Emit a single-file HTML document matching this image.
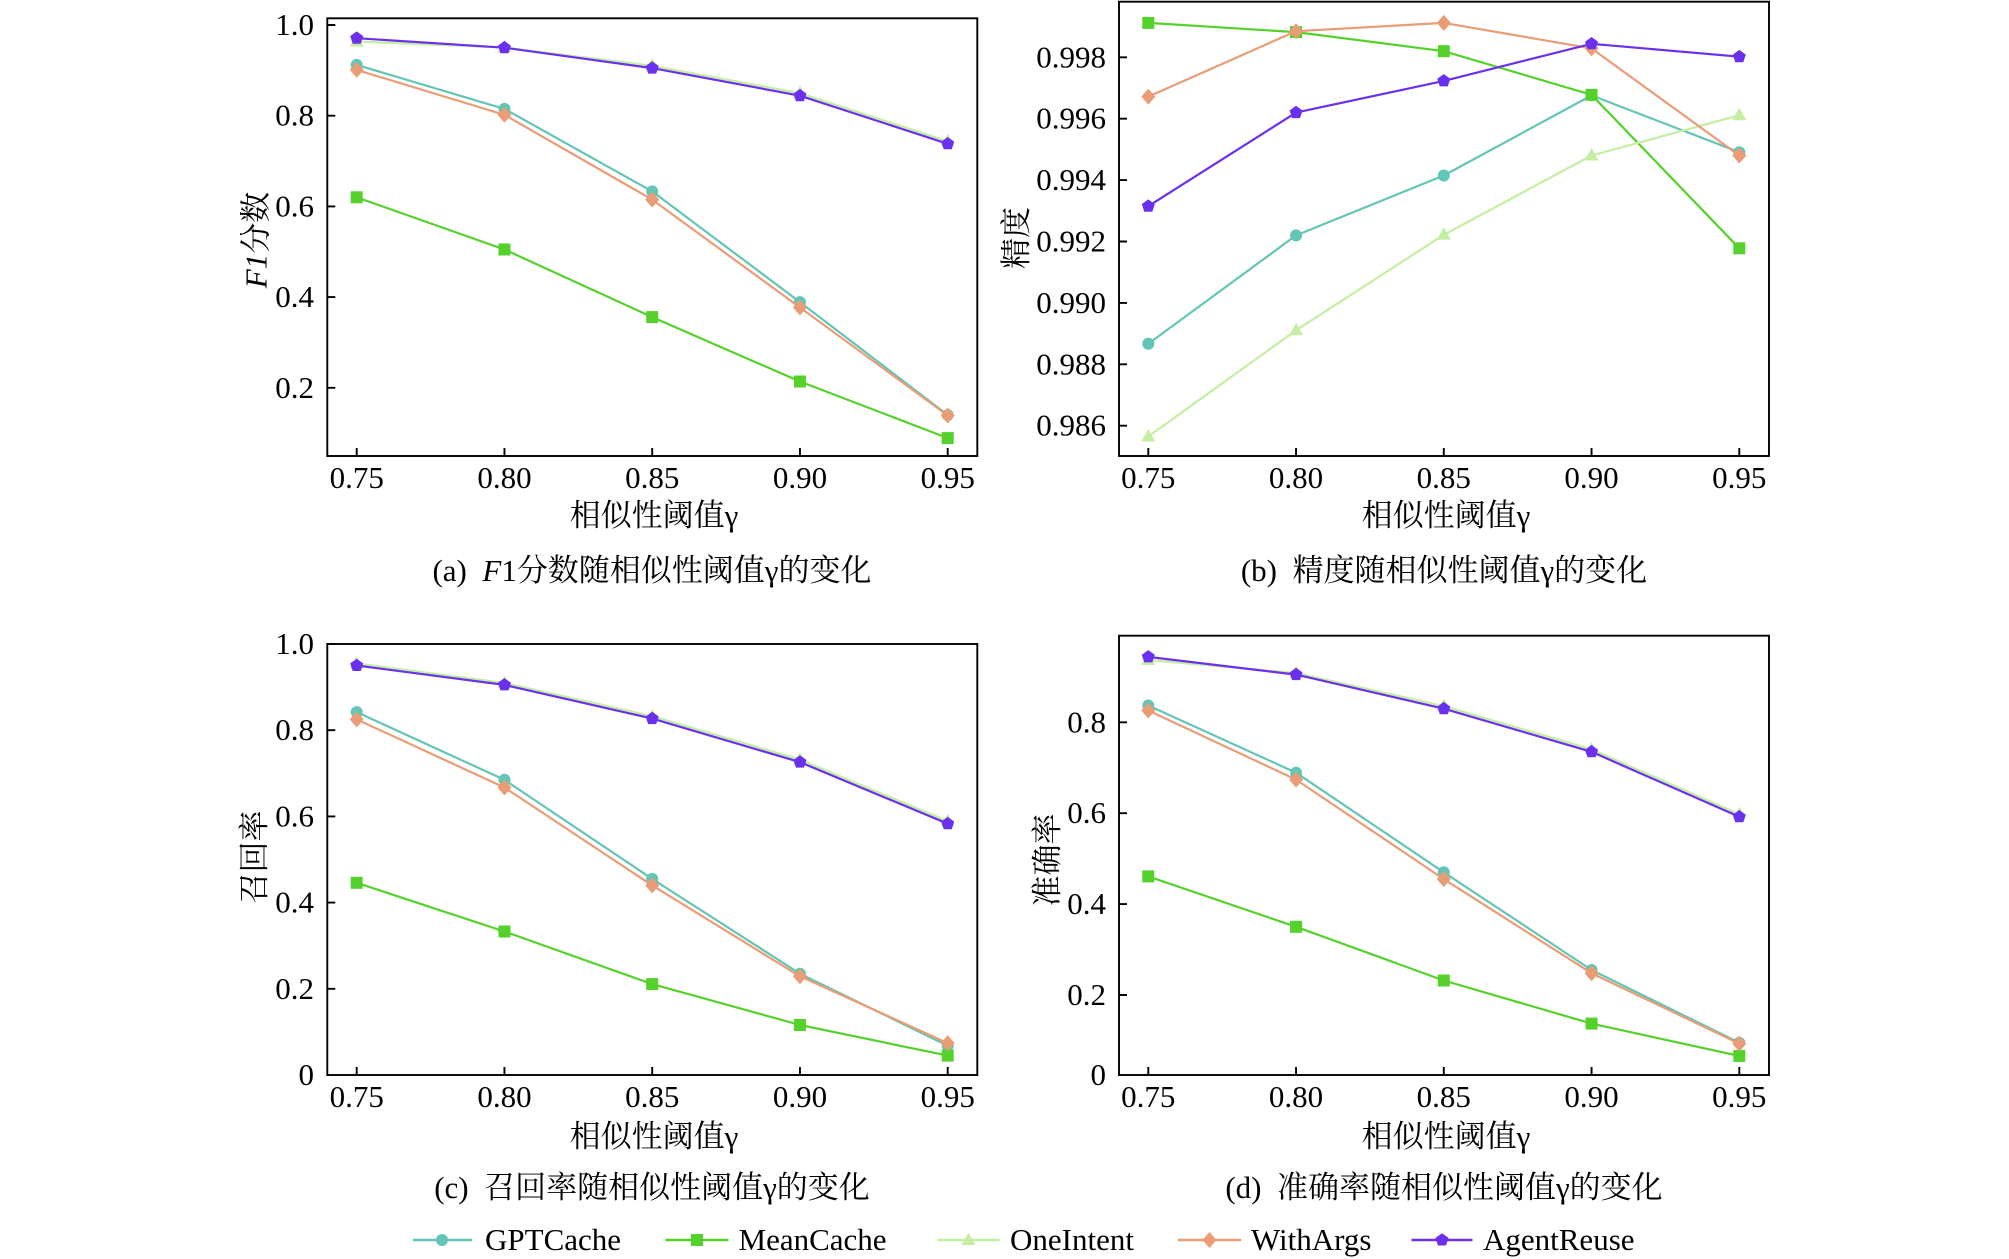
<!DOCTYPE html>
<html><head><meta charset="utf-8"><style>
html,body{margin:0;padding:0;background:#fff;}
svg{display:block;}
text{font-family:"Liberation Serif","Noto Serif CJK SC",serif;font-size:31px;fill:#000;}
</style></head><body>
<svg width="2009" height="1259" viewBox="0 0 2009 1259" xmlns="http://www.w3.org/2000/svg">
<defs>
<marker id="mc" markerUnits="userSpaceOnUse" markerWidth="20" markerHeight="20" refX="0" refY="0" overflow="visible"><circle cx="0" cy="0" r="6" fill="#63c5b5"/></marker>
<marker id="ms" markerUnits="userSpaceOnUse" markerWidth="20" markerHeight="20" refX="0" refY="0" overflow="visible"><rect x="-6" y="-6" width="12" height="12" fill="#55d12b"/></marker>
<marker id="mt" markerUnits="userSpaceOnUse" markerWidth="20" markerHeight="20" refX="0" refY="0" overflow="visible"><polygon points="0,-7.5 7,5 -7,5" fill="#c5eea2"/></marker>
<marker id="md" markerUnits="userSpaceOnUse" markerWidth="20" markerHeight="20" refX="0" refY="0" overflow="visible"><polygon points="0,-8 7,0 0,8 -7,0" fill="#ea9c77"/></marker>
<marker id="mp" markerUnits="userSpaceOnUse" markerWidth="20" markerHeight="20" refX="0" refY="0" overflow="visible"><polygon points="0,-6.8 6.5,-2.1 4,5.5 -4,5.5 -6.5,-2.1" fill="#6a30ee"/></marker>
</defs>
<rect width="2009" height="1259" fill="#fff"/>

<g fill="none" stroke-width="2.2" stroke-linejoin="round">
<!-- (a) -->
<polyline stroke="#63c5b5" marker-start="url(#mc)" marker-mid="url(#mc)" marker-end="url(#mc)" points="356.7,64.9 504.45,108.9 652.2,191.4 799.95,302.1 947.7,415.0"/>
<polyline stroke="#55d12b" marker-start="url(#ms)" marker-mid="url(#ms)" marker-end="url(#ms)" points="356.7,197.3 504.45,249.5 652.2,317.1 799.95,381.5 947.7,438.1"/>
<polyline stroke="#c5eea2" marker-start="url(#mt)" marker-mid="url(#mt)" marker-end="url(#mt)" points="356.7,41.5 504.45,47.5 652.2,65.8 799.95,93.2 947.7,141.3"/>
<polyline stroke="#ea9c77" marker-start="url(#md)" marker-mid="url(#md)" marker-end="url(#md)" points="356.7,69.9 504.45,114.8 652.2,199.6 799.95,307.5 947.7,415.5"/>
<polyline stroke="#6a30ee" marker-start="url(#mp)" marker-mid="url(#mp)" marker-end="url(#mp)" points="356.7,38.2 504.45,47.7 652.2,68.1 799.95,95.7 947.7,143.8"/>
<!-- (b) -->
<polyline stroke="#63c5b5" marker-start="url(#mc)" marker-mid="url(#mc)" marker-end="url(#mc)" points="1148.3,343.7 1296.05,235.4 1443.8,175.5 1591.55,95.4 1739.3,152.2"/>
<polyline stroke="#55d12b" marker-start="url(#ms)" marker-mid="url(#ms)" marker-end="url(#ms)" points="1148.3,22.9 1296.05,32.1 1443.8,51.2 1591.55,94.8 1739.3,248.3"/>
<polyline stroke="#c5eea2" marker-start="url(#mt)" marker-mid="url(#mt)" marker-end="url(#mt)" points="1148.3,436.5 1296.05,330.3 1443.8,234.8 1591.55,155.5 1739.3,115.3"/>
<polyline stroke="#ea9c77" marker-start="url(#md)" marker-mid="url(#md)" marker-end="url(#md)" points="1148.3,96.6 1296.05,31.2 1443.8,22.9 1591.55,48.4 1739.3,155.5"/>
<polyline stroke="#6a30ee" marker-start="url(#mp)" marker-mid="url(#mp)" marker-end="url(#mp)" points="1148.3,206.2 1296.05,112.6 1443.8,80.9 1591.55,43.8 1739.3,56.7"/>
<!-- (c) -->
<polyline stroke="#63c5b5" marker-start="url(#mc)" marker-mid="url(#mc)" marker-end="url(#mc)" points="356.7,712.1 504.45,779.8 652.2,878.9 799.95,973.7 947.7,1045.7"/>
<polyline stroke="#55d12b" marker-start="url(#ms)" marker-mid="url(#ms)" marker-end="url(#ms)" points="356.7,882.8 504.45,931.5 652.2,984.1 799.95,1025.0 947.7,1055.6"/>
<polyline stroke="#c5eea2" marker-start="url(#mt)" marker-mid="url(#mt)" marker-end="url(#mt)" points="356.7,663.5 504.45,683 652.2,716.2 799.95,759.6 947.7,821.2"/>
<polyline stroke="#ea9c77" marker-start="url(#md)" marker-mid="url(#md)" marker-end="url(#md)" points="356.7,719.4 504.45,787.5 652.2,885.4 799.95,976.3 947.7,1043.1"/>
<polyline stroke="#6a30ee" marker-start="url(#mp)" marker-mid="url(#mp)" marker-end="url(#mp)" points="356.7,665.5 504.45,684.9 652.2,718.6 799.95,762.1 947.7,823.7"/>
<!-- (d) -->
<polyline stroke="#63c5b5" marker-start="url(#mc)" marker-mid="url(#mc)" marker-end="url(#mc)" points="1148.3,705.5 1296.05,772.7 1443.8,872.3 1591.55,970.0 1739.3,1042.7"/>
<polyline stroke="#55d12b" marker-start="url(#ms)" marker-mid="url(#ms)" marker-end="url(#ms)" points="1148.3,876.4 1296.05,926.8 1443.8,980.5 1591.55,1023.6 1739.3,1055.9"/>
<polyline stroke="#c5eea2" marker-start="url(#mt)" marker-mid="url(#mt)" marker-end="url(#mt)" points="1148.3,660 1296.05,673 1443.8,706.2 1591.55,749.3 1739.3,814.3"/>
<polyline stroke="#ea9c77" marker-start="url(#md)" marker-mid="url(#md)" marker-end="url(#md)" points="1148.3,710.5 1296.05,779.6 1443.8,879.1 1591.55,973.2 1739.3,1043.6"/>
<polyline stroke="#6a30ee" marker-start="url(#mp)" marker-mid="url(#mp)" marker-end="url(#mp)" points="1148.3,656.9 1296.05,674.6 1443.8,708.7 1591.55,751.8 1739.3,816.8"/>
</g>

<!-- axes frames and ticks -->
<g fill="none" stroke="#000" stroke-width="1.9">
<rect x="327.3" y="18.3" width="650" height="437.7"/>
<rect x="1119" y="1.7" width="650" height="454.3"/>
<rect x="327.3" y="644" width="650" height="431"/>
<rect x="1119" y="635.7" width="650" height="439.3"/>
<path d="M327.3 25h8M327.3 115.7h8M327.3 206.4h8M327.3 297.1h8M327.3 387.8h8
M356.7 456v-8M504.45 456v-8M652.2 456v-8M799.95 456v-8M947.7 456v-8
M1119 57.3h8M1119 118.7h8M1119 180.1h8M1119 241.5h8M1119 302.9h8M1119 364.3h8M1119 425.7h8
M1148.3 456v-8M1296.05 456v-8M1443.8 456v-8M1591.55 456v-8M1739.3 456v-8
M327.3 644h8M327.3 730.2h8M327.3 816.4h8M327.3 902.6h8M327.3 988.8h8
M356.7 1075v-8M504.45 1075v-8M652.2 1075v-8M799.95 1075v-8M947.7 1075v-8
M1119 722.3h8M1119 813.2h8M1119 904.1h8M1119 995h8
M1148.3 1075v-8M1296.05 1075v-8M1443.8 1075v-8M1591.55 1075v-8M1739.3 1075v-8"/>
</g>

<!-- y tick labels -->
<g text-anchor="end">
<text x="314" y="35">1.0</text><text x="314" y="125.7">0.8</text><text x="314" y="216.4">0.6</text><text x="314" y="307.1">0.4</text><text x="314" y="397.8">0.2</text>
<text x="1106" y="67.3">0.998</text><text x="1106" y="128.7">0.996</text><text x="1106" y="190.1">0.994</text><text x="1106" y="251.5">0.992</text><text x="1106" y="312.9">0.990</text><text x="1106" y="374.3">0.988</text><text x="1106" y="435.7">0.986</text>
<text x="314" y="654">1.0</text><text x="314" y="740.2">0.8</text><text x="314" y="826.4">0.6</text><text x="314" y="912.6">0.4</text><text x="314" y="998.8">0.2</text><text x="314" y="1085">0</text>
<text x="1106" y="732.3">0.8</text><text x="1106" y="823.2">0.6</text><text x="1106" y="914.1">0.4</text><text x="1106" y="1005">0.2</text><text x="1106" y="1085">0</text>
</g>

<!-- x tick labels -->
<g text-anchor="middle">
<text x="356.7" y="488">0.75</text><text x="504.45" y="488">0.80</text><text x="652.2" y="488">0.85</text><text x="799.95" y="488">0.90</text><text x="947.7" y="488">0.95</text>
<text x="1148.3" y="488">0.75</text><text x="1296.05" y="488">0.80</text><text x="1443.8" y="488">0.85</text><text x="1591.55" y="488">0.90</text><text x="1739.3" y="488">0.95</text>
<text x="356.7" y="1107">0.75</text><text x="504.45" y="1107">0.80</text><text x="652.2" y="1107">0.85</text><text x="799.95" y="1107">0.90</text><text x="947.7" y="1107">0.95</text>
<text x="1148.3" y="1107">0.75</text><text x="1296.05" y="1107">0.80</text><text x="1443.8" y="1107">0.85</text><text x="1591.55" y="1107">0.90</text><text x="1739.3" y="1107">0.95</text>

<!-- x axis titles -->
<text x="654" y="526">相似性阈值γ</text>
<text x="1446" y="526">相似性阈值γ</text>
<text x="654" y="1147">相似性阈值γ</text>
<text x="1446" y="1147">相似性阈值γ</text>

<!-- captions -->
<text x="652" y="581" xml:space="preserve">(a)  <tspan font-style="italic">F</tspan>1分数随相似性阈值γ的变化</text>
<text x="1444" y="581" xml:space="preserve">(b)  精度随相似性阈值γ的变化</text>
<text x="652" y="1198" xml:space="preserve">(c)  召回率随相似性阈值γ的变化</text>
<text x="1444" y="1198" xml:space="preserve">(d)  准确率随相似性阈值γ的变化</text>

<!-- y axis titles -->
<text transform="translate(255.5,240) rotate(-90)" y="11"><tspan font-style="italic">F1</tspan>分数</text>
<text transform="translate(1016,238) rotate(-90)" y="11">精度</text>
<text transform="translate(254,857) rotate(-90)" y="11">召回率</text>
<text transform="translate(1047,860) rotate(-90)" y="11">准确率</text>
</g>

<!-- legend -->
<g fill="none" stroke-width="2.6">
<polyline stroke="#63c5b5" marker-mid="url(#mc)" points="413,1240 442,1240 472,1240"/>
<polyline stroke="#55d12b" marker-mid="url(#ms)" points="665.5,1240 697,1240 728.5,1240"/>
<polyline stroke="#c5eea2" marker-mid="url(#mt)" points="937.5,1240 968.5,1240 999.5,1240"/>
<polyline stroke="#ea9c77" marker-mid="url(#md)" points="1178,1240 1209.5,1240 1241,1240"/>
<polyline stroke="#6a30ee" marker-mid="url(#mp)" points="1411.5,1240 1442,1240 1472.5,1240"/>
</g>
<text x="485" y="1250">GPTCache</text>
<text x="738.5" y="1250">MeanCache</text>
<text x="1010" y="1250">OneIntent</text>
<text x="1251" y="1250">WithArgs</text>
<text x="1483" y="1250">AgentReuse</text>
</svg>
</body></html>
